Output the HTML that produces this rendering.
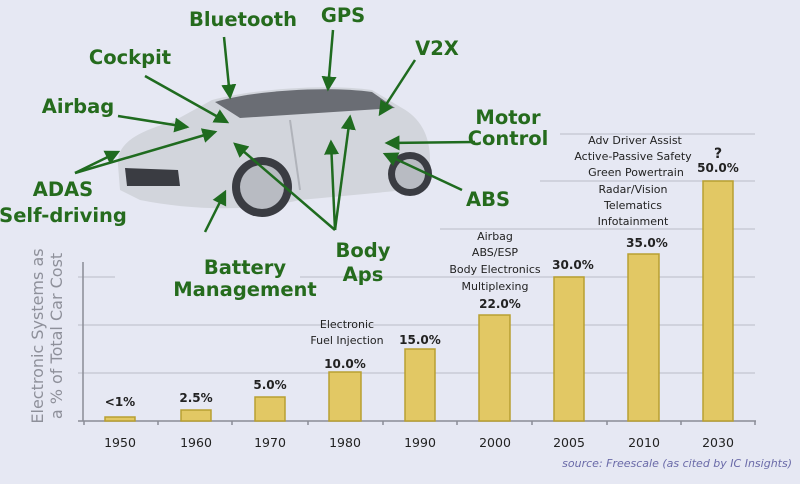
<!DOCTYPE html>
<html><head><meta charset="utf-8"><style>
html,body{margin:0;padding:0;background:#e6e8f3;}
svg{display:block}
.g{font-family:"DejaVu Sans","Liberation Sans",sans-serif;font-weight:bold;fill:#256b1d;font-size:19.5px;text-anchor:middle}
.t{font-family:"DejaVu Sans","Liberation Sans",sans-serif;font-size:11px;fill:#222;text-anchor:middle}
.v{font-family:"DejaVu Sans","Liberation Sans",sans-serif;font-size:12px;font-weight:bold;fill:#222;text-anchor:middle}
.x{font-family:"DejaVu Sans","Liberation Sans",sans-serif;font-size:12.5px;fill:#222;text-anchor:middle}
</style></head><body>
<svg width="800" height="484" viewBox="0 0 800 484" xmlns="http://www.w3.org/2000/svg">
<defs><marker id="a" markerWidth="6" markerHeight="6" refX="5" refY="3" orient="auto"><path d="M0,0 L6,3 L0,6z" fill="#1f6b1f"/></marker></defs>
<rect width="800" height="484" fill="#e6e8f3"/>
<g stroke="#c9cbd6" stroke-width="1.5">
<line x1="78" y1="373" x2="755" y2="373"/><line x1="78" y1="325" x2="755" y2="325"/><line x1="78" y1="277" x2="115" y2="277"/><line x1="300" y1="277" x2="755" y2="277"/>
<line x1="440" y1="229" x2="755" y2="229"/><line x1="540" y1="181" x2="755" y2="181"/><line x1="560" y1="134" x2="755" y2="134"/>
</g>
<line x1="83" y1="262" x2="83" y2="421" stroke="#8a8c96" stroke-width="1.5"/>
<line x1="78" y1="421" x2="756" y2="421" stroke="#8a8c96" stroke-width="1.5"/>
<g stroke="#8a8c96" stroke-width="1.5"><line x1="84" y1="421" x2="84" y2="425"/><line x1="158" y1="421" x2="158" y2="425"/><line x1="232" y1="421" x2="232" y2="425"/><line x1="308" y1="421" x2="308" y2="425"/><line x1="383" y1="421" x2="383" y2="425"/><line x1="457" y1="421" x2="457" y2="425"/><line x1="532" y1="421" x2="532" y2="425"/><line x1="607" y1="421" x2="607" y2="425"/><line x1="681" y1="421" x2="681" y2="425"/><line x1="755" y1="421" x2="755" y2="425"/></g>
<text transform="translate(43,336) rotate(-90)" style="font-family:'DejaVu Sans','Liberation Sans',sans-serif;font-size:16px;fill:#8e909a;text-anchor:middle">Electronic Systems as</text>
<text transform="translate(62,336) rotate(-90)" style="font-family:'DejaVu Sans','Liberation Sans',sans-serif;font-size:16px;fill:#8e909a;text-anchor:middle">a % of Total Car Cost</text>
<g fill="#e2c864" stroke="#b89f32" stroke-width="1.5">
<rect x="105" y="417" width="30" height="4"/><rect x="181" y="410" width="30" height="11"/><rect x="255" y="397" width="30" height="24"/><rect x="329" y="372" width="32" height="49"/><rect x="405" y="349" width="30" height="72"/><rect x="479" y="315" width="31" height="106"/><rect x="554" y="277" width="30" height="144"/><rect x="628" y="254" width="31" height="167"/><rect x="703" y="181" width="30" height="240"/>
</g>
<g class="v"><text x="120" y="406">&lt;1%</text><text x="196" y="402">2.5%</text><text x="270" y="389">5.0%</text><text x="345" y="368">10.0%</text><text x="420" y="344">15.0%</text><text x="500" y="308">22.0%</text><text x="573" y="269">30.0%</text><text x="647" y="247">35.0%</text><text x="718" y="172">50.0%</text><text x="718" y="158" style="font-size:14px">?</text></g>
<g class="t"><text x="347" y="328">Electronic</text><text x="347" y="344">Fuel Injection</text>
<text x="495" y="240">Airbag</text><text x="495" y="256">ABS/ESP</text><text x="495" y="273">Body Electronics</text><text x="495" y="290">Multiplexing</text>
<text x="633" y="193">Radar/Vision</text><text x="633" y="209">Telematics</text><text x="633" y="225">Infotainment</text>
<text x="635" y="144">Adv Driver Assist</text><text x="633" y="160">Active-Passive Safety</text><text x="636" y="176">Green Powertrain</text></g>
<g class="x"><text x="120" y="447">1950</text><text x="196" y="447">1960</text><text x="270" y="447">1970</text><text x="345" y="447">1980</text><text x="420" y="447">1990</text><text x="495" y="447">2000</text><text x="569" y="447">2005</text><text x="644" y="447">2010</text><text x="718" y="447">2030</text></g>
<text x="792" y="467" style="font-family:'DejaVu Sans','Liberation Sans',sans-serif;font-size:11px;font-style:italic;fill:#6a6aa8;text-anchor:end">source: Freescale (as cited by IC Insights)</text>
<!-- car -->
<path d="M118,165 C116,145 135,132 172,122 L212,100 C258,88 330,84 372,90 L402,108 C420,118 430,135 430,160 L428,188 L300,200 C250,212 190,210 140,200 L120,190 Z" fill="#d2d5dc"/>
<path d="M215,102 C255,90 330,86 372,92 L395,108 L240,118 Z" fill="#6a6d74"/>
<path d="M125,168 L178,170 L180,186 L127,186 Z" fill="#3a3c42"/>
<path d="M290,120 L300,190" stroke="#b0b3ba" stroke-width="2"/>
<circle cx="262" cy="187" r="30" fill="#3a3c42"/><circle cx="262" cy="187" r="22" fill="#b8bbc2"/>
<circle cx="410" cy="174" r="22" fill="#3a3c42"/><circle cx="410" cy="174" r="15" fill="#b8bbc2"/>
<g stroke="#1f6b1f" stroke-width="2.5" marker-end="url(#a)">
<line x1="224" y1="37" x2="230" y2="97"/><line x1="333" y1="30" x2="328" y2="89"/><line x1="415" y1="60" x2="380" y2="114"/>
<line x1="145" y1="76" x2="227" y2="122"/><line x1="118" y1="116" x2="187" y2="127"/>
<line x1="75" y1="173" x2="215" y2="132"/><line x1="75" y1="173" x2="118" y2="152"/>
<line x1="475" y1="142" x2="387" y2="143"/><line x1="462" y1="190" x2="385" y2="154"/>
<line x1="205" y1="232" x2="225" y2="192"/>
<line x1="335" y1="230" x2="235" y2="144"/><line x1="335" y1="230" x2="331" y2="142"/><line x1="335" y1="230" x2="350" y2="117"/>
</g>
<g class="g">
<text x="243" y="26">Bluetooth</text><text x="343" y="22">GPS</text><text x="437" y="55">V2X</text><text x="130" y="64">Cockpit</text><text x="78" y="113">Airbag</text>
<text x="508" y="124">Motor</text><text x="508" y="145">Control</text><text x="63" y="196">ADAS</text><text x="63" y="222">Self-driving</text>
<text x="488" y="206">ABS</text><text x="245" y="274">Battery</text><text x="245" y="296">Management</text><text x="363" y="257">Body</text><text x="363" y="281">Aps</text>
</g>
</svg>
</body></html>
